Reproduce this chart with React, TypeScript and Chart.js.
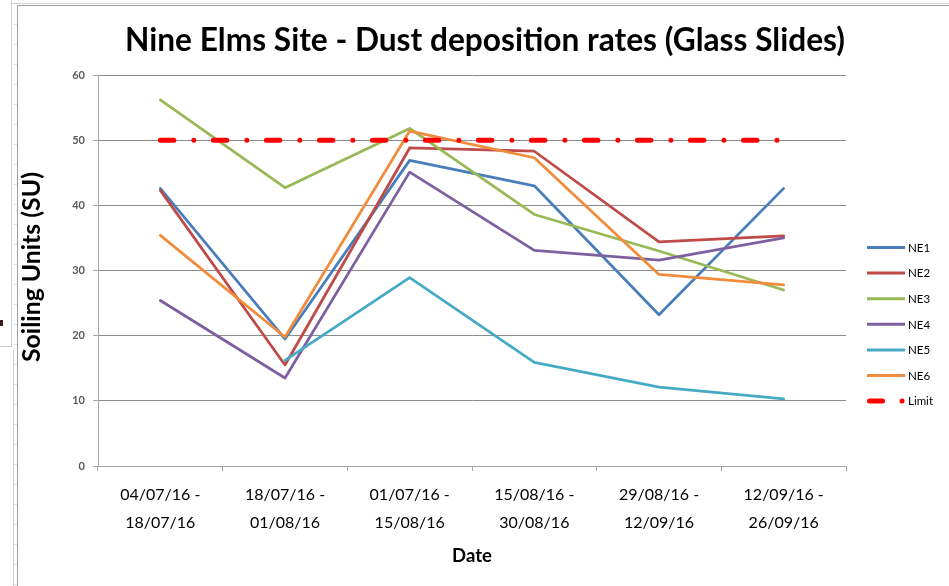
import React, { useEffect, useRef } from "react";
import { Chart, registerables } from "chart.js";

Chart.register(...registerables);

const TITLE = "Nine Elms Site - Dust deposition rates (Glass Slides)";
const Y_TITLE = "Soiling Units (SU)";
const X_TITLE = "Date";

const categories: string[][] = [
  ["04/07/16 -", "18/07/16"],
  ["18/07/16 -", "01/08/16"],
  ["01/07/16 -", "15/08/16"],
  ["15/08/16 -", "30/08/16"],
  ["29/08/16 -", "12/09/16"],
  ["12/09/16 -", "26/09/16"],
];

const seriesNames = ["NE1", "NE2", "NE3", "NE4", "NE5", "NE6", "Limit"];
const NE1 = [42.6, 19.5, 46.9, 43.0, 23.2, 42.6];
const NE2 = [42.3, 15.5, 48.8, 48.3, 34.4, 35.3];
const NE3 = [56.2, 42.7, 51.8, 38.6, 33.0, 27.0];
const NE4 = [25.4, 13.5, 45.1, 33.1, 31.6, 35.0];
const NE5 = [null, 16.2, 28.9, 15.9, 12.1, 10.3];
const NE6 = [35.4, 19.8, 51.4, 47.3, 29.4, 27.8];
const LIMIT = [50, 50, 50, 50, 50, 50];

const Y_MIN = 0;
const Y_MAX = 60;
const Y_STEP = 10;

const colors = ["#4A7EBB", "#BE4B48", "#98B954", "#7D60A0", "#46AAC5", "#F08C3C", "#FF0000"];

const FONT = "Lato, 'Open Sans', sans-serif";

function fitSize(text: string, weight: string, target: number): number {
  const c = document.createElement("canvas");
  const ctx = c.getContext("2d")!;
  ctx.font = `${weight} 100px ${FONT}`;
  const w = ctx.measureText(text).width;
  return (100 * target) / w;
}

export default function App() {
  const ref = useRef<HTMLCanvasElement | null>(null);

  useEffect(() => {
    const canvas = ref.current!;
    const titleSize = fitSize(TITLE, "bold", 720);
    const yTitleSize = fitSize(Y_TITLE, "bold", 190);
    const xTitleSize = 18.5;
    const tickSize = 16;

    const overlay = {
      id: "overlay",
      beforeDraw(chart: any) {
        const ctx = chart.ctx as CanvasRenderingContext2D;
        ctx.save();
        ctx.fillStyle = "#ffffff";
        ctx.fillRect(0, 0, chart.width, chart.height);
        ctx.lineWidth = 1;
        ctx.strokeStyle = "#d0d0d0";
        ctx.beginPath();
        ctx.moveTo(11.5, 0);
        ctx.lineTo(11.5, 346);
        ctx.moveTo(0, 346.5);
        ctx.lineTo(12, 346.5);
        ctx.moveTo(13.5, 350);
        ctx.lineTo(13.5, 586);
        ctx.moveTo(12, 3.5);
        ctx.lineTo(949, 3.5);
        ctx.stroke();
        ctx.strokeStyle = "#e2e2e2";
        ctx.beginPath();
        for (let y = 24; y < 586; y += 20) {
          ctx.moveTo(14, y + 0.5);
          ctx.lineTo(17, y + 0.5);
        }
        ctx.stroke();
        ctx.fillStyle = "#3a1a1a";
        ctx.fillRect(0, 320, 3, 6);
        ctx.strokeStyle = "#a0a0a0";
        ctx.beginPath();
        ctx.moveTo(17.5, 5);
        ctx.lineTo(17.5, 586);
        ctx.moveTo(17, 5.5);
        ctx.lineTo(949, 5.5);
        ctx.stroke();
        ctx.restore();
      },
      afterDraw(chart: any) {
        const ctx = chart.ctx as CanvasRenderingContext2D;
        const area = chart.chartArea;
        ctx.save();
        ctx.fillStyle = "#000000";
        ctx.textAlign = "center";
        ctx.textBaseline = "middle";
        ctx.font = `bold ${titleSize}px ${FONT}`;
        ctx.fillText(TITLE, 485, 41);
        ctx.font = `bold ${xTitleSize}px ${FONT}`;
        ctx.fillText(X_TITLE, (area.left + area.right) / 2, 556);
        ctx.save();
        ctx.translate(32, 267);
        ctx.rotate(-Math.PI / 2);
        ctx.font = `bold ${yTitleSize}px ${FONT}`;
        ctx.fillText(Y_TITLE, 0, 0);
        ctx.restore();

        const x0 = 867;
        const x1 = 905;
        ctx.textAlign = "left";
        ctx.font = `11.5px ${FONT}`;
        chart.data.datasets.forEach((ds: any, i: number) => {
          const y = 247.5 + i * 25.6;
          ctx.strokeStyle = ds.borderColor;
          if (i < 6) {
            ctx.lineWidth = 3;
            ctx.lineCap = "butt";
            ctx.beginPath();
            ctx.moveTo(x0, y);
            ctx.lineTo(x1, y);
            ctx.stroke();
          } else {
            ctx.lineWidth = 5;
            ctx.lineCap = "round";
            ctx.beginPath();
            ctx.moveTo(x0 + 2.5, y);
            ctx.lineTo(885 - 2.5, y);
            ctx.stroke();
            ctx.fillStyle = ds.borderColor;
            ctx.beginPath();
            ctx.arc(902, y, 2.5, 0, Math.PI * 2);
            ctx.fill();
          }
          ctx.fillStyle = "#000000";
          ctx.fillText(ds.label, 908, y + 0.5);
        });
        ctx.restore();
      },
    };

    const allSeries = [NE1, NE2, NE3, NE4, NE5, NE6];
    const datasets: any[] = allSeries.map((d, i) => ({
      label: seriesNames[i],
      data: d,
      borderColor: colors[i],
      backgroundColor: colors[i],
      borderWidth: 2.75,
      pointRadius: 0,
      borderJoinStyle: "round",
      borderCapStyle: "round",
      tension: 0,
      spanGaps: false,
      order: 10 - i,
    }));
    datasets.push({
      label: seriesNames[6],
      data: LIMIT,
      borderColor: colors[6],
      backgroundColor: colors[6],
      borderWidth: 5,
      pointRadius: 0,
      borderDash: [13.5, 20, 0.01, 19.5],
      borderCapStyle: "round",
      order: 0,
    });

    const chart = new Chart(canvas, {
      type: "line",
      data: { labels: categories, datasets },
      plugins: [overlay],
      options: {
        animation: false,
        responsive: false,
        devicePixelRatio: 1,
        layout: { padding: { left: 0, top: 75, right: 103, bottom: 0 } },
        plugins: {
          legend: { display: false },
          title: { display: false },
          tooltip: { enabled: false },
        },
        scales: {
          x: {
            type: "category",
            offset: true,
            afterFit: (s: any) => {
              s.height = 120;
            },
            grid: {
              offset: true,
              drawOnChartArea: false,
              drawTicks: true,
              tickLength: 5,
              tickColor: "#a6a6a6",
            },
            border: { display: true, color: "#a6a6a6", width: 1 },
            ticks: {
              color: "#000000",
              padding: 10,
              maxRotation: 0,
              autoSkip: false,
              font: { family: FONT, size: tickSize, lineHeight: "28px" } as any,
            },
          },
          y: {
            min: Y_MIN,
            max: Y_MAX,
            afterFit: (s: any) => {
              s.width = 98;
            },
            grid: {
              color: "#8c8c8c",
              tickLength: 5,
              tickColor: "#a6a6a6",
            },
            border: { display: true, color: "#a6a6a6", width: 1 },
            ticks: {
              stepSize: Y_STEP,
              color: "#595959",
              padding: 8,
              font: { family: FONT, size: 11, weight: "bold" },
            },
          },
        },
      },
    });
    return () => chart.destroy();
  }, []);

  return (
    <div style={{ position: "fixed", left: 0, top: 0, width: 949, height: 586, background: "#fff" }}>
      <canvas ref={ref} width={949} height={586} style={{ width: 949, height: 586, display: "block" }} />
    </div>
  );
}
